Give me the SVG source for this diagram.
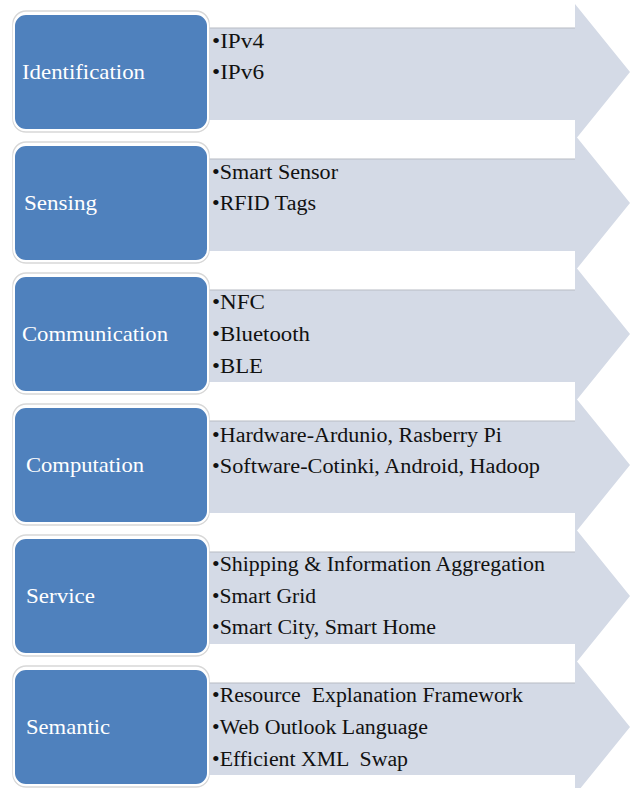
<svg xmlns="http://www.w3.org/2000/svg" width="632" height="788" viewBox="0 0 632 788">
<style>
.arrow{fill:#d4dae6;stroke:none}
.arrowtop{stroke:#b8bcc4;stroke-width:1.2;fill:none}
.box{fill:#4f81bd;stroke:#ffffff;stroke-width:2}
.shadow{fill:none;stroke:#d8d8d8;stroke-width:1.5}
.lbl{font-family:"Liberation Serif","Times New Roman",serif;font-size:22px;fill:#ffffff}
.item{font-family:"Liberation Serif","Times New Roman",serif;font-size:20px;fill:#111111;white-space:pre}
</style>
<rect width="632" height="788" fill="#ffffff"/>
<g id="arrows">
<polygon class="arrow" points="200,28 575,28 575,4 630,72 575,140 575,120 200,120"/>
<polygon class="arrow" points="200,159 575,159 575,135 630,203 575,271 575,251 200,251"/>
<polygon class="arrow" points="200,290 575,290 575,266 630,334 575,402 575,382 200,382"/>
<polygon class="arrow" points="200,421 575,421 575,397 630,465 575,533 575,513 200,513"/>
<polygon class="arrow" points="200,552 575,552 575,528 630,596 575,664 575,644 200,644"/>
<polygon class="arrow" points="200,683 575,683 575,659 630,727 575,795 575,775 200,775"/>
<path class="arrowtop" d="M205,28H575M205,159H575M205,290H575M205,421H575M205,552H575M205,683H575"/>
</g>
<g id="n1">
<rect class="shadow" x="13" y="11" width="196" height="121" rx="13"/>
<rect class="box" x="14" y="14" width="194" height="116" rx="12"/>
<text class="lbl" x="22" y="79" textLength="123" lengthAdjust="spacingAndGlyphs">Identification</text>
<text class="item" x="212" y="48" textLength="52" lengthAdjust="spacingAndGlyphs">•IPv4</text>
<text class="item" x="212" y="79" textLength="52" lengthAdjust="spacingAndGlyphs">•IPv6</text>
</g>
<g id="n2">
<rect class="shadow" x="13" y="142" width="196" height="121" rx="13"/>
<rect class="box" x="14" y="145" width="194" height="116" rx="12"/>
<text class="lbl" x="24" y="210" textLength="73" lengthAdjust="spacingAndGlyphs">Sensing</text>
<text class="item" x="212" y="179" textLength="126" lengthAdjust="spacingAndGlyphs">•Smart Sensor</text>
<text class="item" x="212" y="210" textLength="104" lengthAdjust="spacingAndGlyphs">•RFID Tags</text>
</g>
<g id="n3">
<rect class="shadow" x="13" y="273" width="196" height="121" rx="13"/>
<rect class="box" x="14" y="276" width="194" height="116" rx="12"/>
<text class="lbl" x="22" y="341" textLength="146" lengthAdjust="spacingAndGlyphs">Communication</text>
<text class="item" x="212" y="309" textLength="53" lengthAdjust="spacingAndGlyphs">•NFC</text>
<text class="item" x="212" y="341" textLength="98" lengthAdjust="spacingAndGlyphs">•Bluetooth</text>
<text class="item" x="212" y="373" textLength="51" lengthAdjust="spacingAndGlyphs">•BLE</text>
</g>
<g id="n4">
<rect class="shadow" x="13" y="404" width="196" height="121" rx="13"/>
<rect class="box" x="14" y="407" width="194" height="116" rx="12"/>
<text class="lbl" x="26" y="472" textLength="118" lengthAdjust="spacingAndGlyphs">Computation</text>
<text class="item" x="212" y="442" textLength="290" lengthAdjust="spacingAndGlyphs">•Hardware-Ardunio, Rasberry Pi</text>
<text class="item" x="212" y="473" textLength="328" lengthAdjust="spacingAndGlyphs">•Software-Cotinki, Android, Hadoop</text>
</g>
<g id="n5">
<rect class="shadow" x="13" y="535" width="196" height="121" rx="13"/>
<rect class="box" x="14" y="538" width="194" height="116" rx="12"/>
<text class="lbl" x="26" y="603" textLength="69" lengthAdjust="spacingAndGlyphs">Service</text>
<text class="item" x="212" y="571" textLength="333" lengthAdjust="spacingAndGlyphs">•Shipping &amp; Information Aggregation</text>
<text class="item" x="212" y="603" textLength="104" lengthAdjust="spacingAndGlyphs">•Smart Grid</text>
<text class="item" x="212" y="634" textLength="224" lengthAdjust="spacingAndGlyphs">•Smart City, Smart Home</text>
</g>
<g id="n6">
<rect class="shadow" x="13" y="666" width="196" height="121" rx="13"/>
<rect class="box" x="14" y="669" width="194" height="116" rx="12"/>
<text class="lbl" x="26" y="734" textLength="84" lengthAdjust="spacingAndGlyphs">Semantic</text>
<text class="item" x="212" y="702" textLength="311" lengthAdjust="spacingAndGlyphs">•Resource  Explanation Framework</text>
<text class="item" x="212" y="734" textLength="216" lengthAdjust="spacingAndGlyphs">•Web Outlook Language</text>
<text class="item" x="212" y="766" textLength="196" lengthAdjust="spacingAndGlyphs">•Efficient XML  Swap</text>
</g>
</svg>
